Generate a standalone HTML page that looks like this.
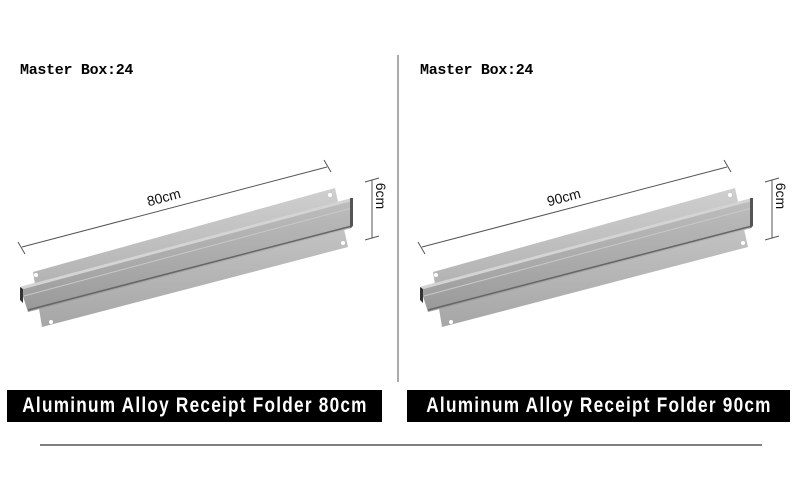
<!DOCTYPE html>
<html><head><meta charset="utf-8"><style>
html,body{margin:0;padding:0;background:#fff;width:800px;height:499px;overflow:hidden}
.t{position:absolute;font-family:"Liberation Mono",monospace;font-size:15px;color:#000;font-weight:bold;letter-spacing:-0.3px}
.lab{position:absolute;top:390px;height:32px;background:#000;overflow:hidden;white-space:nowrap}
.lab span{position:absolute;left:50%;top:0;color:#fff;font-family:"Liberation Sans",sans-serif;font-weight:bold;font-size:21px;line-height:32px;letter-spacing:1.5px;transform:translateX(-50%) scaleX(0.82)}
</style></head><body>
<div class="t" style="left:20px;top:62px">Master Box:24</div>
<div class="t" style="left:420px;top:62px">Master Box:24</div>
<svg width="800" height="499" style="position:absolute;left:0;top:0">
<defs>
<linearGradient id="g1" x1="0" y1="0" x2="0" y2="1"><stop offset="0" stop-color="#cfcfcf"/><stop offset="1" stop-color="#a6a6a6"/></linearGradient>
<linearGradient id="g2" x1="0" y1="0" x2="0" y2="1"><stop offset="0" stop-color="#bdbdbd"/><stop offset="0.6" stop-color="#a9a9a9"/><stop offset="1" stop-color="#999"/></linearGradient>
</defs>
<line x1="398" y1="55" x2="398" y2="382" stroke="#555" stroke-width="1"/>
<line x1="40" y1="445" x2="762" y2="445" stroke="#555" stroke-width="1.5"/>
<g id="L">
<polygon points="33,272 335,188 348,247 42,327" fill="url(#g1)"/>
<polygon points="20,287 352,198 352,228 28,312" fill="url(#g2)"/>
<polygon points="20,287 352,198 352,201 20,290" fill="#d4d4d4"/>
<line x1="28" y1="310" x2="352" y2="226" stroke="#666" stroke-width="1.5"/>
<line x1="24" y1="296" x2="352" y2="208" stroke="#c8c8c8" stroke-width="1"/>
<polygon points="20,287 23,289 23,303 20,300" fill="#333"/>
<polygon points="350,198 353,198 353,226 350,228" fill="#555"/>
<circle cx="36" cy="275" r="2" fill="#fff"/><circle cx="330" cy="195" r="2" fill="#fff"/>
<circle cx="51" cy="322" r="2" fill="#fff"/><circle cx="343" cy="243" r="2" fill="#fff"/>
<line x1="22" y1="247" x2="327" y2="167" stroke="#555" stroke-width="1"/>
<line x1="18" y1="242" x2="25" y2="254" stroke="#555"/><line x1="324" y1="160" x2="331" y2="172" stroke="#555"/>
<line x1="372" y1="180" x2="372" y2="238" stroke="#555"/>
<line x1="365" y1="182" x2="379" y2="178" stroke="#555"/><line x1="365" y1="240" x2="379" y2="236" stroke="#555"/>
</g>
<use href="#L" x="400" y="0"/>
<g font-family="Liberation Sans,sans-serif" font-size="14" fill="#111">
<text x="165" y="202" transform="rotate(-15 165 202)" text-anchor="middle">80cm</text>
<text x="565" y="202" transform="rotate(-15 565 202)" text-anchor="middle">90cm</text>
<text x="376" y="196" transform="rotate(90 376 196)" text-anchor="middle">6cm</text>
<text x="776" y="196" transform="rotate(90 776 196)" text-anchor="middle">6cm</text>
</g>
</svg>
<div class="lab" style="left:7px;width:375px"><span>Aluminum Alloy Receipt Folder 80cm</span></div>
<div class="lab" style="left:407px;width:383px"><span>Aluminum Alloy Receipt Folder 90cm</span></div>
</body></html>
